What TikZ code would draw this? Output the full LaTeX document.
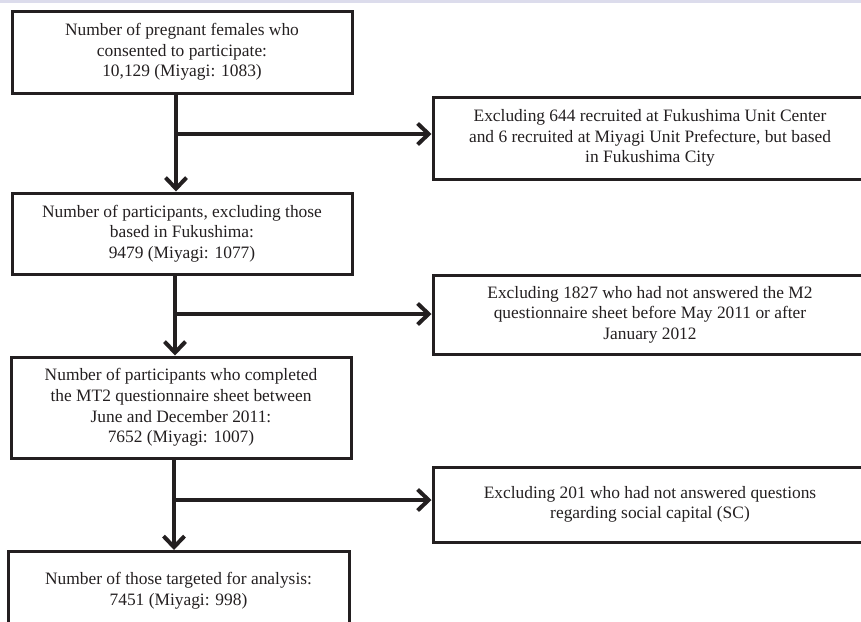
\documentclass[tikz,border=0pt]{standalone}
\usepackage{fontspec}
\setmainfont{Liberation Serif}
\usetikzlibrary{arrows.meta}
\definecolor{ink}{HTML}{231F20}
\definecolor{lav}{HTML}{DCDCEC}
\begin{document}
\begin{tikzpicture}[x=1pt,y=-1pt,
  box/.style={draw=ink,line width=3pt,text=ink,align=center,inner sep=0pt,
    font=\fontsize{17.4}{20.6}\selectfont},
  flow/.style={draw=ink,line width=4pt},
  arr/.style={flow,-{Straight Barb[length=11pt,width=21pt,line width=4pt]}}]
\clip (0,0) rectangle (861,621);
\fill[lav] (0,0) rectangle (861,2.5);
\node[box,minimum width=340pt,minimum height=82pt] (b1) at (182,52)
  {Number of pregnant females who\\consented to participate:\\10,129 (Miyagi: 1083)};
\node[box,minimum width=340pt,minimum height=81pt] (b2) at (182,233.5)
  {Number of participants, excluding those\\based in Fukushima:\\9479 (Miyagi: 1077)};
\node[box,minimum width=340pt,minimum height=101pt] (b3) at (181,407.5)
  {Number of participants who completed\\the MT2 questionnaire sheet between\\June and December 2011:\\7652 (Miyagi: 1007)};
\node[box,minimum width=341pt,minimum height=82pt,anchor=north] (b4) at (178.5,550)
  {\strut\\[-2pt]Number of those targeted for analysis:\\7451 (Miyagi: 998)\\[2pt]\strut};
\node[box,minimum width=434pt,minimum height=82pt] (r1) at (650,138)
  {Excluding 644 recruited at Fukushima Unit Center\\and 6 recruited at Miyagi Unit Prefecture, but based\\in Fukushima City};
\node[box,minimum width=434pt,minimum height=79pt] (r2) at (650,314.5)
  {Excluding 1827 who had not answered the M2\\questionnaire sheet before May 2011 or after\\January 2012};
\node[box,minimum width=434pt,minimum height=75pt] (r3) at (650,504.5)
  {Excluding 201 who had not answered questions\\regarding social capital (SC)};
\coordinate (j1) at (176,134);
\coordinate (j2) at (175,314);
\coordinate (j3) at (174,500);
\draw[arr] (b1.south -| j1) -- (b2.north -| j1);
\draw[arr] (j1) -- (r1.west |- j1);
\draw[arr] (b2.south -| j2) -- (b3.north -| j2);
\draw[arr] (j2) -- (r2.west |- j2);
\draw[arr] (b3.south -| j3) -- (b4.north -| j3);
\draw[arr] (j3) -- (r3.west |- j3);
\end{tikzpicture}
\end{document}
